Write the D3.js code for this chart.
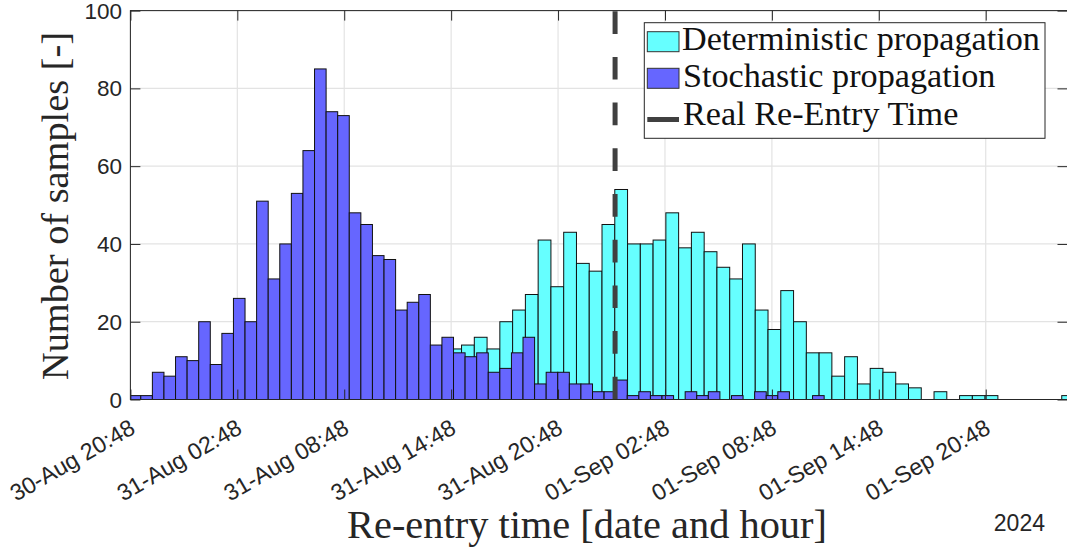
<!DOCTYPE html>
<html><head><meta charset="utf-8">
<script src="https://cdn.jsdelivr.net/npm/d3@7"></script>
<style>body{margin:0;background:#fff}svg{display:block}</style>
</head><body><svg id="c" width="1067" height="549"></svg>
<script>
// ---- data ----
const stochCounts = [1,1,7,6,11,10,20,9,17,26,20,51,31,40,53,64,85,74,73,48,45,37,36,23,25,27,14,16,12,11,12,7,8,12,16,4,7,7,4,4,2,2,5,1,2,1,1,0,2,1,2,0,1,0,2,1,2,0,0,1];
const detCounts = [3,5,8,10,12,13,14,16,13,20,23,27,41,29,43,35,33,45,54,40,40,41,48,39,43,38,34,31,40,23,18,28,20,12,12,6,11,4,8,7,4,3,0,2,0,1,1,1,0,0,0,0,0,1];
const stochStart = "2024-08-30T20:44:00Z", stochBinMinutes = 39;
const detStart = "2024-08-31T11:05:00Z", detBinMinutes = 43;
const realReentry = "2024-09-01T00:00:00Z";
const xTickTimes = ["2024-08-30T20:48Z","2024-08-31T02:48Z","2024-08-31T08:48Z","2024-08-31T14:48Z","2024-08-31T20:48Z","2024-09-01T02:48Z","2024-09-01T08:48Z","2024-09-01T14:48Z","2024-09-01T20:48Z"];
const xTickLabels = ["30-Aug 20:48","31-Aug 02:48","31-Aug 08:48","31-Aug 14:48","31-Aug 20:48","01-Sep 02:48","01-Sep 08:48","01-Sep 14:48","01-Sep 20:48"];
const yTicks = [0,20,40,60,80,100];
const xDomain = ["2024-08-30T20:48Z","2024-09-02T01:23:24Z"];
const legendLabels = ["Deterministic propagation","Stochastic propagation","Real Re-Entry Time"];

// ---- layout ----
const L = 130.4, R = 1067.5, T = 10.6, B = 399.5;
const svg = d3.select("#c");
const x = d3.scaleUtc().domain(xDomain.map(d=>new Date(d))).range([L,R]);
const y = d3.scaleLinear().domain([0,100]).range([B,T]);
const axisCol = "#262626";
const cyan = "#66ffff", blue = "#6666ff";

svg.append("defs").append("clipPath").attr("id","clip")
  .append("rect").attr("x",L).attr("y",T-1).attr("width",R-L).attr("height",B-T+1);

// grid
const grid = svg.append("g");
grid.selectAll(".gx").data(xTickTimes).join("line")
  .attr("x1",d=>x(new Date(d))).attr("x2",d=>x(new Date(d))).attr("y1",T).attr("y2",B)
  .attr("stroke","#e3e3e3").attr("stroke-width",1.2);
grid.selectAll(".gy").data(yTicks).join("line")
  .attr("y1",d=>y(d)).attr("y2",d=>y(d)).attr("x1",L).attr("x2",R)
  .attr("stroke","#e3e3e3").attr("stroke-width",1.2);

function bins(counts, start, minutes){
  const s = new Date(start).getTime();
  return counts.map((c,i)=>({x0:new Date(s+i*minutes*60000), x1:new Date(s+(i+1)*minutes*60000), c}));
}
const plot = svg.append("g").attr("clip-path","url(#clip)");
function drawHist(data, fill){
  plot.append("g").selectAll("rect").data(data).join("rect")
    .attr("x",d=>x(d.x0)).attr("width",d=>x(d.x1)-x(d.x0))
    .attr("y",d=>y(d.c)).attr("height",d=>y(0)-y(d.c))
    .attr("fill",fill).attr("stroke","#111").attr("stroke-width",1);
}
drawHist(bins(detCounts, detStart, detBinMinutes), cyan);
drawHist(bins(stochCounts, stochStart, stochBinMinutes), blue);

// real re-entry line (drawn bottom to top)
const rx = x(new Date(realReentry));
plot.append("line").attr("x1",rx).attr("x2",rx).attr("y1",y(0)).attr("y2",y(100))
  .attr("stroke","#404040").attr("stroke-width",5).attr("stroke-dasharray","22.7,23");

// axes box
const ax = svg.append("g").attr("stroke",axisCol).attr("stroke-width",1).attr("fill","none");
ax.append("rect").attr("x",L).attr("y",T).attr("width",R-L).attr("height",B-T);
const xAxisB = d3.axisBottom(x).tickValues(xTickTimes.map(d=>new Date(d))).tickSize(-10).tickFormat("");
const xAxisT = d3.axisTop(x).tickValues(xTickTimes.map(d=>new Date(d))).tickSize(-10).tickFormat("");
const yAxisL = d3.axisLeft(y).tickValues(yTicks).tickSize(-10).tickFormat("");
const yAxisR = d3.axisRight(y).tickValues(yTicks).tickSize(-10).tickFormat("");
[[xAxisB,`translate(0,${B})`],[xAxisT,`translate(0,${T})`],[yAxisL,`translate(${L},0)`],[yAxisR,`translate(${R},0)`]].forEach(([a,t])=>{
  const g = svg.append("g").attr("transform",t).call(a);
  g.select(".domain").remove();
  g.selectAll(".tick line").attr("stroke",axisCol);
});

// tick labels
const sans = "'Liberation Sans', Arial, Helvetica, sans-serif";
const serif = "'Liberation Serif', 'Times New Roman', serif";
svg.append("g").selectAll("text").data(yTicks).join("text")
  .attr("x",122).attr("y",d=>y(d)).attr("dy","0.36em").attr("text-anchor","end")
  .attr("font-family",sans).attr("font-size",22.5).attr("fill",axisCol).text(d=>d);
svg.append("g").selectAll("text").data(xTickTimes).join("text")
  .attr("transform",d=>`translate(${x(new Date(d))+2},${425}) rotate(-30)`)
  .attr("text-anchor","end").attr("dy","0.36em")
  .attr("font-family",sans).attr("font-size",23.2).attr("fill",axisCol)
  .text((d,i)=>xTickLabels[i]);
svg.append("text").attr("x",1045).attr("y",531).attr("text-anchor","end")
  .attr("font-family",sans).attr("font-size",23).attr("fill",axisCol).text("2024");

function fit(sel, w){
  const base = +sel.attr("font-size");
  const l = sel.node().getComputedTextLength();
  sel.attr("font-size", base*w/l);
  return base*w/l;
}
// axis titles
const xl = svg.append("text").attr("x",587).attr("y",538).attr("text-anchor","middle")
  .attr("font-family",serif).attr("font-size",36).attr("fill",axisCol).text("Re-entry time [date and hour]");
fit(xl, 480);
const yl = svg.append("text").attr("transform","translate(68,206) rotate(-90)").attr("text-anchor","middle")
  .attr("font-family",serif).attr("font-size",36).attr("fill",axisCol).text("Number of samples [-]");
fit(yl, 348);

// legend
const lg = svg.append("g");
lg.append("rect").attr("x",644.3).attr("y",22.7).attr("width",400.7).attr("height",115.6)
  .attr("fill","#fff").attr("stroke",axisCol).attr("stroke-width",1);
const rowsY = [50,87.3,125];
lg.append("rect").attr("x",647.3).attr("y",31.7).attr("width",31.7).attr("height",20).attr("fill",cyan).attr("stroke","#333");
lg.append("rect").attr("x",647.3).attr("y",68.3).attr("width",31.7).attr("height",20).attr("fill",blue).attr("stroke","#333");
lg.append("line").attr("x1",647.3).attr("x2",679).attr("y1",119.5).attr("y2",119.5).attr("stroke","#404040").attr("stroke-width",5);
const t0 = lg.append("text").attr("x",682).attr("y",rowsY[0]).attr("font-family",serif).attr("font-size",30).attr("fill","#111").text(legendLabels[0]);
const fs = fit(t0, 358);
lg.append("text").attr("x",683).attr("y",rowsY[1]).attr("font-family",serif).attr("font-size",fs).attr("fill","#111").text(legendLabels[1]);
lg.append("text").attr("x",683).attr("y",rowsY[2]).attr("font-family",serif).attr("font-size",fs).attr("fill","#111").text(legendLabels[2]);
</script></body></html>
